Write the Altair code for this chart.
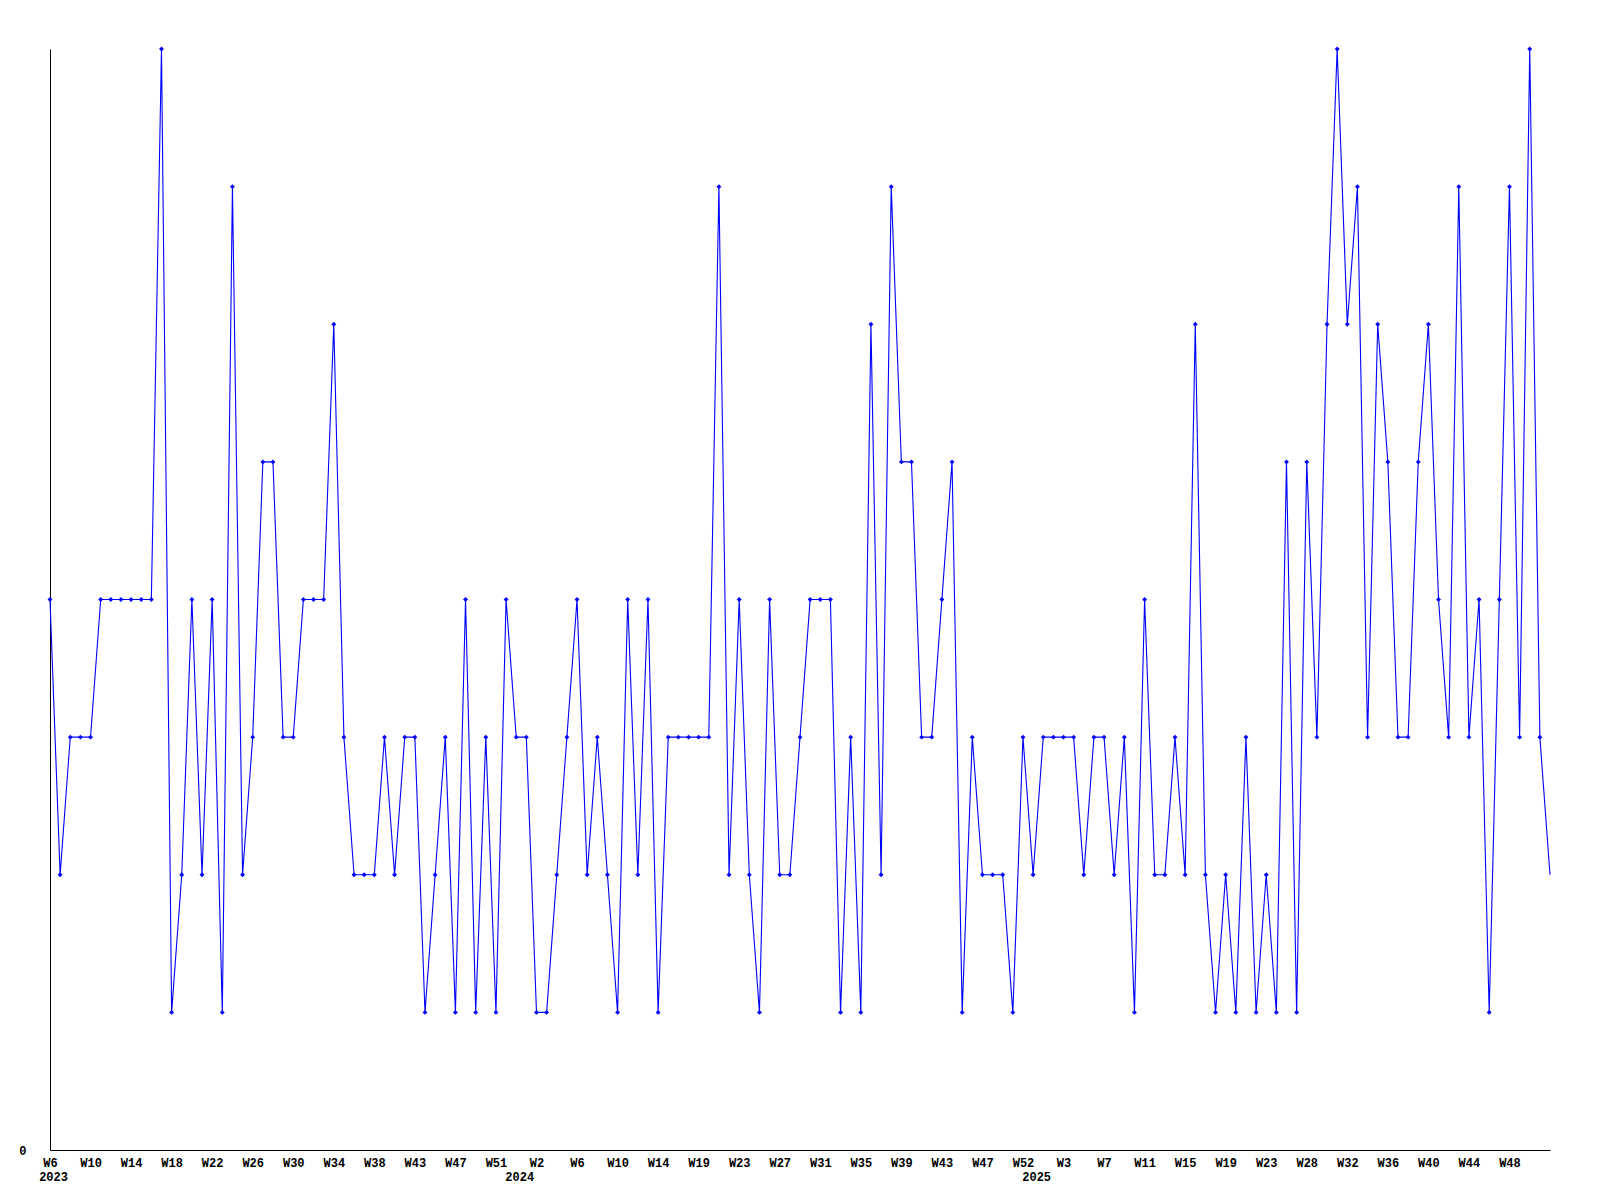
import altair as alt
import pandas as pd

# Weekly values (one point per week slot)
values = [
    4, 2, 3, 3, 3, 4, 4, 4, 4, 4, 4, 8, 1, 2, 4, 2, 4, 1, 7, 2, 3, 5, 5, 3, 3,
    4, 4, 4, 6, 3, 2, 2, 2, 3, 2, 3, 3, 1, 2, 3, 1, 4, 1, 3, 1, 4, 3, 3, 1, 1, 2, 3,
    4, 2, 3, 2, 1, 4, 2, 4, 1, 3, 3, 3, 3, 3, 7, 2, 4, 2, 1, 4, 2, 2, 3, 4, 4, 4,
    1, 3, 1, 6, 2, 7, 5, 5, 3, 3, 4, 5, 1, 3, 2, 2, 2, 1, 3, 2, 3, 3, 3, 3, 2,
    3, 3, 2, 3, 1, 4, 2, 2, 3, 2, 6, 2, 1, 2, 1, 3, 1, 2, 1, 5, 1, 5, 3, 6, 8, 6,
    7, 3, 6, 5, 3, 3, 5, 6, 4, 3, 7, 3, 4, 1, 4, 7, 3, 8, 3, 2,
]

tick_positions = list(range(0, 145, 4))
tick_labels = [
    "W6", "W10", "W14", "W18", "W22", "W26", "W30", "W34", "W38", "W43", "W47", "W51",
    "W2", "W6", "W10", "W14", "W19", "W23", "W27", "W31", "W35", "W39", "W43", "W47",
    "W52", "W3", "W7", "W11", "W15", "W19", "W23", "W28", "W32", "W36", "W40", "W44", "W48",
]
year_positions = [0.3, 46.3, 97.3]
year_labels = ["2023", "2024", "2025"]

df = pd.DataFrame({"i": list(range(len(values))), "v": values})
last_index = len(values) - 1

parts = []
for p, l in zip(tick_positions, tick_labels):
    parts.append(f"datum.value === {p} ? '{l}'")
for p, l in zip(year_positions, year_labels):
    parts.append(f"datum.value === {p} ? ['', '{l}']")
label_expr = " : ".join(parts) + " : ''"

FONT = "Liberation Mono"
BLUE = "#0000ff"

x_enc = alt.X(
    "i:Q",
    scale=alt.Scale(domain=[0, last_index], nice=False, zero=False),
    axis=alt.Axis(
        values=tick_positions + year_positions,
        labelExpr=label_expr,
        title=None,
        ticks=False,
        tickSize=0,
        grid=False,
        labelFlush=False,
        labelOverlap=False,
        labelBound=False,
        labelPadding=7,
        labelLineHeight=14,
        labelFont=FONT,
        labelFontWeight="bold",
        labelFontSize=12,
        labelColor="black",
        domainColor="black",
        domainWidth=1,
    ),
)
y_enc = alt.Y(
    "v:Q",
    scale=alt.Scale(domain=[0, 8], nice=False, zero=True),
    axis=alt.Axis(
        values=[0],
        format="d",
        title=None,
        ticks=False,
        tickSize=0,
        grid=False,
        labelOverlap=False,
        labelPadding=24,
        labelFont=FONT,
        labelFontWeight="bold",
        labelFontSize=12,
        labelColor="black",
        domainColor="black",
        domainWidth=1,
    ),
)

base = alt.Chart(df).encode(x=x_enc, y=y_enc)
line = base.mark_line(color=BLUE, strokeWidth=1.1)
pts = base.transform_filter(alt.datum.i < last_index).mark_point(
    shape="diamond", filled=True, color=BLUE, size=24, opacity=1
)

chart = (
    alt.layer(line, pts)
    .properties(
        width=1500,
        height=1101,
        autosize=alt.AutoSizeParams(type="none"),
        padding={"left": 42, "top": 41, "right": 42, "bottom": 45},
        background="white",
    )
    .configure_view(strokeWidth=0)
    .configure_axis(labelOverlap=False)
)

chart.save("out.html", embed_options={"renderer": "svg", "actions": False})
